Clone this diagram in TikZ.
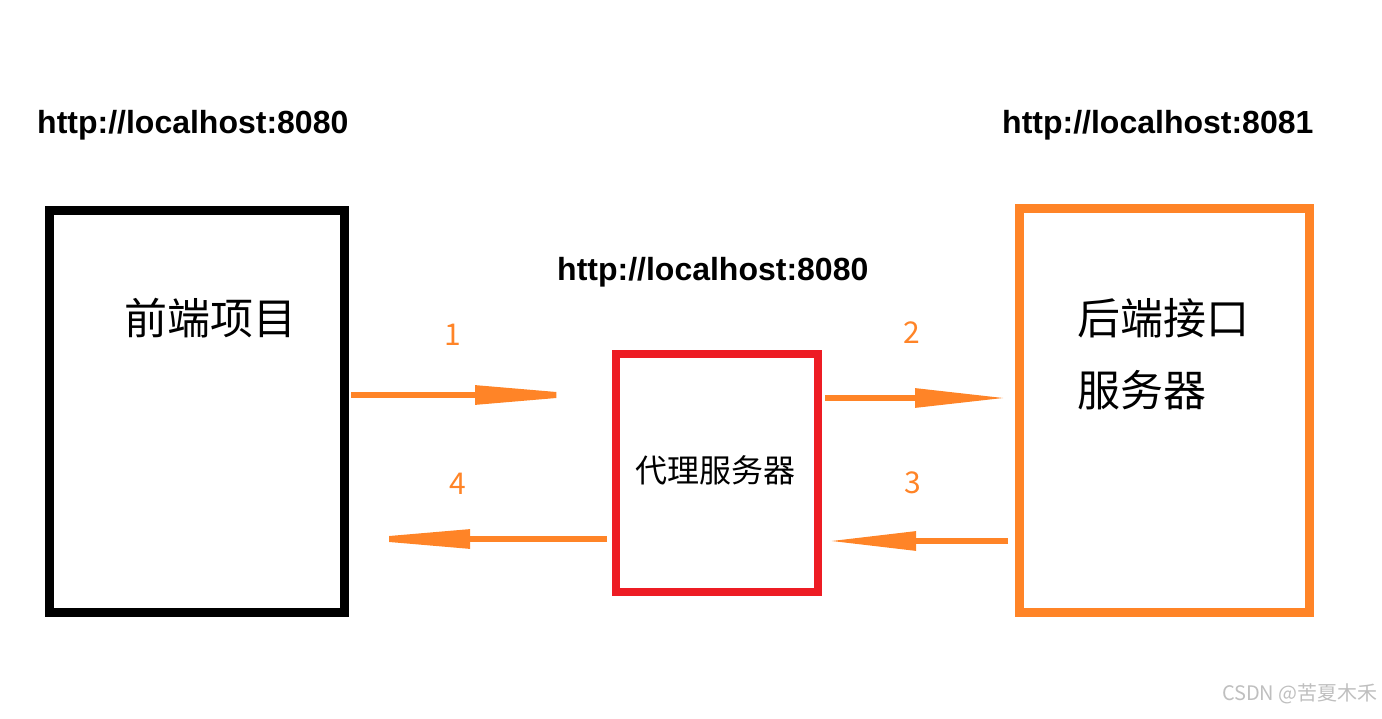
\documentclass[tikz,border=0pt]{standalone}
\usepackage{fontspec}
\setmainfont{Liberation Sans}
\newfontfamily\cjk{Noto Sans CJK SC}
\usetikzlibrary{arrows.meta}
\definecolor{org}{HTML}{FF8427}
\definecolor{rd}{HTML}{ED1C24}
\begin{document}
\begin{tikzpicture}[x=1pt,y=-1pt,
  url/.style={font=\bfseries\fontsize{32}{36}\selectfont,inner sep=0pt},
  flow/.style={draw=org,line width=6pt,-{Triangle[length=#1,width=18pt]}},
  num/.style={text=org,font=\cjk\fontsize{30}{32}\selectfont,inner sep=0pt}]
\useasboundingbox (0,0) rectangle (1382,719);
\node[draw=black,line width=9pt,minimum width=295pt,minimum height=402pt,inner sep=0pt] (fe) at (197,411.5) {};
\node[draw=rd,line width=8pt,minimum width=202pt,minimum height=238pt,inner sep=0pt] (px) at (717,473) {};
\node[draw=org,line width=9pt,minimum width=290pt,minimum height=403pt,inner sep=0pt] (be) at (1164,410.5) {};
\node[url,anchor=west] (u1) at (37,125) {http://localhost:8080};
\node[url,anchor=west] (u2) at (1002,125) {http://localhost:8081};
\node[url,anchor=west] (u3) at (557,272) {http://localhost:8080};
\node[font=\cjk\fontsize{43}{50}\selectfont,inner sep=0pt] (t1) at (210,318) {前端项目};
\node[font=\cjk\fontsize{43}{72}\selectfont,inner sep=0pt,anchor=north west,align=left] (t2) at (1077,298) {后端接口\\服务器};
\node[font=\cjk\fontsize{32}{36}\selectfont,inner sep=0pt] (t3) at (715,470) {代理服务器};
\coordinate (a1s) at (351,395); \coordinate (a1e) at (597,395);
\coordinate (a2s) at (825,398); \coordinate (a2e) at (1007,398);
\coordinate (a3s) at (1008,541); \coordinate (a3e) at (828,541);
\coordinate (a4s) at (607,539); \coordinate (a4e) at (349,539);
\draw[flow=122pt] (a1s) -- (a1e);
\draw[flow=92pt] (a2s) -- (a2e);
\draw[flow=88pt] (a3s) -- (a3e);
\draw[flow=121pt] (a4s) -- (a4e);
\node[num] (n1) at (453,335) {1};
\node[num] (n2) at (912,333) {2};
\node[num] (n3) at (913,483) {3};
\node[num] (n4) at (458,484) {4};
\node[text=black!25,font=\cjk\fontsize{20}{22}\selectfont,anchor=east,inner sep=0pt] (wm) at (1378,694) {CSDN @苦夏木禾};
\end{tikzpicture}
\end{document}
